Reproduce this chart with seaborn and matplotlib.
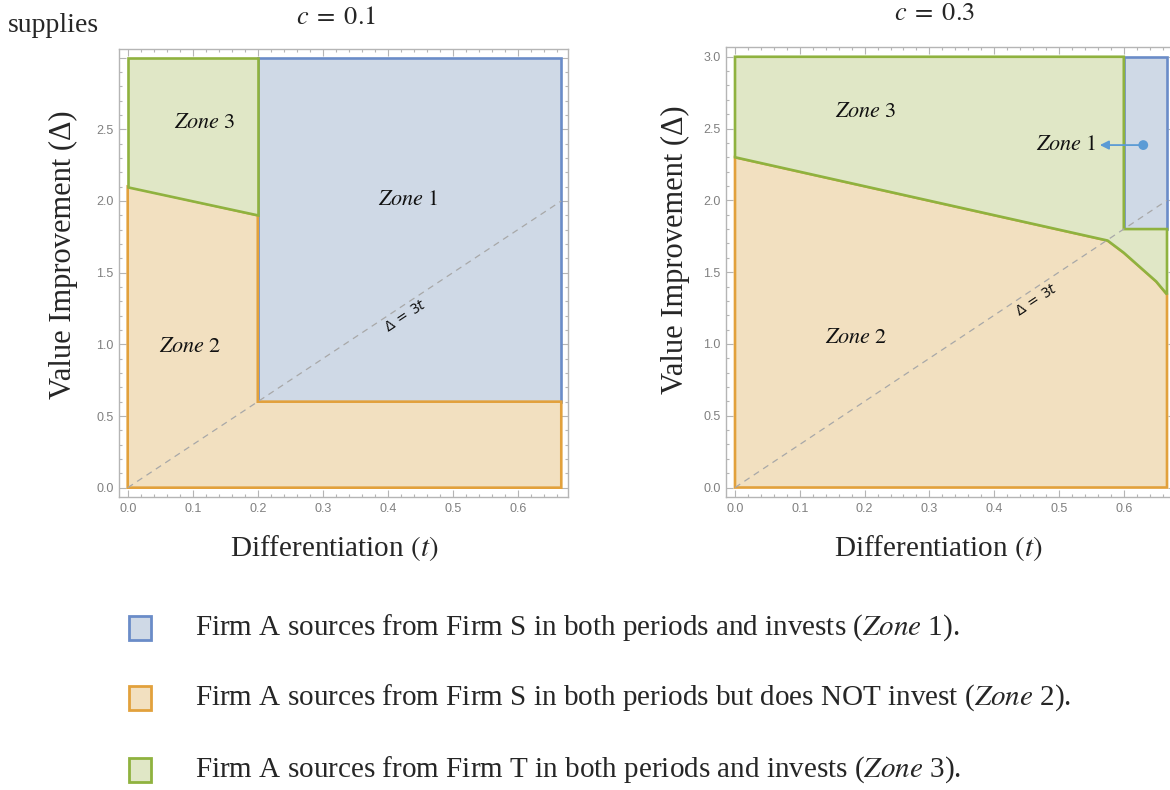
import matplotlib
matplotlib.use("Agg")
import matplotlib.pyplot as plt
from matplotlib.patches import Rectangle
from matplotlib.ticker import MultipleLocator
import seaborn as sns

# ---------------- data ----------------
T_MAX = 2 / 3

# c = 0.1 : zone polygons (t, Delta)
c1_zone1_t = [0.2, 0.2, T_MAX, T_MAX]
c1_zone1_d = [0.6, 3.0, 3.0, 0.6]
c1_zone2_t = [0.0, 0.0, 0.2, 0.2, T_MAX, T_MAX]
c1_zone2_d = [0.0, 2.1, 1.9, 0.6, 0.6, 0.0]
c1_zone3_t = [0.0, 0.0, 0.2, 0.2]
c1_zone3_d = [2.1, 3.0, 3.0, 1.9]

# c = 0.3 : boundary curve between zone 2 and zone 3 past the kink
c3_curve_t = [0.575, 0.6, 0.625, 0.65, T_MAX]
c3_curve_d = [1.72, 1.635, 1.535, 1.435, 1.345]
c3_zone1_t = [0.6, 0.6, T_MAX, T_MAX]
c3_zone1_d = [1.8, 3.0, 3.0, 1.8]
c3_zone2_t = [0.0, 0.0] + c3_curve_t + [T_MAX]
c3_zone2_d = [0.0, 2.3] + c3_curve_d + [0.0]
c3_zone3_t = [0.0, 0.0, 0.6, 0.6, T_MAX] + c3_curve_t[::-1]
c3_zone3_d = [2.3, 3.0, 3.0, 1.8, 1.8] + c3_curve_d[::-1]

# reference line Delta = 3t
diag_t = [0.0, T_MAX]
diag_d = [0.0, 2.0]

# Zone 1 marker in the c = 0.3 panel
c3_marker_t = [0.63]
c3_marker_d = [2.385]

x_ticks = [0.0, 0.1, 0.2, 0.3, 0.4, 0.5, 0.6]
y_ticks = [0.0, 0.5, 1.0, 1.5, 2.0, 2.5, 3.0]
x_tick_labels = ["0.0", "0.1", "0.2", "0.3", "0.4", "0.5", "0.6"]
y_tick_labels_left = ["0.0", "0.5", "1.0", "1.5", "2.0", "2.5", ""]
y_tick_labels_right = ["0.0", "0.5", "1.0", "1.5", "2.0", "2.5", "3.0"]

panel_titles = [r"$c\; =\; 0.1$", r"$c\; =\; 0.3$"]

legend_texts = [
    r"Firm A sources from Firm S in both periods and invests ($Zone$ 1).",
    r"Firm A sources from Firm S in both periods but does NOT invest ($Zone$ 2).",
    r"Firm A sources from Firm T in both periods and invests ($Zone$ 3).",
]

# ---------------- style ----------------
sns.set_theme(style="ticks")
plt.rcParams["font.family"] = ["Liberation Serif", "DejaVu Serif"]
plt.rcParams["mathtext.fontset"] = "stix"

ZONE_FILL = {1: "#cfd9e6", 2: "#f2e0c0", 3: "#e0e7c6"}
ZONE_EDGE = {1: "#6a8cc8", 2: "#e2a13c", 3: "#8fb23f"}
FRAME = "#b5b5b5"
TICK_TXT = "#808080"

fig = plt.figure(figsize=(11.7, 7.9), dpi=100)
W, H = 1170, 790


def px_axes(left, top, right, bottom):
    return fig.add_axes([left / W, 1 - bottom / H, (right - left) / W, (bottom - top) / H])


ax1 = px_axes(119, 49, 568, 497)
ax2 = px_axes(726, 47, 1175, 497)


def style_axes(ax, xlim, ylim, ylabels):
    ax.set_xlim(*xlim)
    ax.set_ylim(*ylim)
    for s in ax.spines.values():
        s.set_color(FRAME)
        s.set_linewidth(1.0)
    ax.set_xticks(x_ticks)
    ax.set_xticklabels(x_tick_labels)
    ax.set_yticks(y_ticks)
    ax.set_yticklabels(ylabels)
    ax.xaxis.set_minor_locator(MultipleLocator(0.02))
    ax.yaxis.set_minor_locator(MultipleLocator(0.1))
    ax.tick_params(which="both", direction="in", top=True, right=True,
                   color=FRAME, width=0.8)
    ax.tick_params(which="major", length=5, labelsize=9, labelcolor=TICK_TXT, pad=4)
    ax.tick_params(which="minor", length=2.5)
    for lab in ax.get_xticklabels() + ax.get_yticklabels():
        lab.set_family(["Liberation Sans", "DejaVu Sans"])
    ax.set_xlabel("")
    ax.set_ylabel("")


def draw_zone(ax, ts, ds, zone):
    ax.fill(ts, ds, facecolor=ZONE_FILL[zone], edgecolor=ZONE_EDGE[zone],
            linewidth=1.9, joinstyle="miter", zorder=1 + zone * 0.1)


def draw_diag(ax):
    sns.lineplot(x=diag_t, y=diag_d, ax=ax, color="#a8a8a8", linewidth=0.9,
                 linestyle=(0, (5, 4)), zorder=3)


zone_font = dict(fontsize=16, color="#111111", ha="center", va="center", zorder=4)
diag_font = dict(fontsize=10, color="#111111", ha="center", va="center",
                 math_fontfamily="dejavusans", zorder=4)

# ---- panel c = 0.1 ----
draw_zone(ax1, c1_zone1_t, c1_zone1_d, 1)
draw_zone(ax1, c1_zone2_t, c1_zone2_d, 2)
draw_zone(ax1, c1_zone3_t, c1_zone3_d, 3)
draw_diag(ax1)
style_axes(ax1, (-0.0134, 0.677), (-0.065, 3.06), y_tick_labels_left)
ax1.text(0.119, 2.54, r"$Zone\ 3$", **zone_font)
ax1.text(0.096, 0.98, r"$Zone\ 2$", **zone_font)
ax1.text(0.431, 2.0, r"$Zone\ 1$", **zone_font)
ax1.text(0.427, 1.20, r"$\Delta\,=\,3t$", rotation=33.5, **diag_font)

# ---- panel c = 0.3 ----
draw_zone(ax2, c3_zone1_t, c3_zone1_d, 1)
draw_zone(ax2, c3_zone2_t, c3_zone2_d, 2)
draw_zone(ax2, c3_zone3_t, c3_zone3_d, 3)
draw_diag(ax2)
style_axes(ax2, (-0.0139, 0.679), (-0.066, 3.068), y_tick_labels_right)
ax2.text(0.202, 2.61, r"$Zone\ 3$", **zone_font)
ax2.text(0.187, 1.04, r"$Zone\ 2$", **zone_font)
ax2.text(0.512, 2.385, r"$Zone\ 1$", **zone_font)
ax2.text(0.465, 1.31, r"$\Delta\,=\,3t$", rotation=33.5, **diag_font)
sns.scatterplot(x=c3_marker_t, y=c3_marker_d, ax=ax2, color="#5b9bd5", s=50,
                edgecolor="none", zorder=5)
ax2.annotate("", xy=(0.563, c3_marker_d[0]), xytext=(c3_marker_t[0], c3_marker_d[0]),
             arrowprops=dict(arrowstyle="-|>", color="#5b9bd5", lw=1.3,
                             mutation_scale=13, shrinkA=0, shrinkB=0), zorder=5)

# ---- axis labels ----
for cx in (334, 938):
    fig.text(cx / W, 1 - 548 / H, r"Differentiation $(t)$", fontsize=21,
             ha="center", va="center")
for cx, cy in ((63, 255), (675, 250)):
    fig.text(cx / W, 1 - cy / H, "Value Improvement (\u0394)", fontsize=22,
             rotation=90, ha="center", va="center")

# ---- panel titles ----
fig.text(336 / W, 1 - 18 / H, panel_titles[0], fontsize=19, ha="center", va="center")
fig.text(935 / W, 1 - 14 / H, panel_titles[1], fontsize=19, ha="center", va="center")

fig.text(8 / W, 1 - 25 / H, "supplies", fontsize=20, ha="left", va="center")

# ---- legend ----
legend_rows_y = [628, 698, 770]
for zone, (y, txt) in enumerate(zip(legend_rows_y, legend_texts), start=1):
    fig.patches.append(Rectangle((129 / W, 1 - (y + 12) / H), 22 / W, 24 / H,
                                 transform=fig.transFigure,
                                 facecolor=ZONE_FILL[zone], edgecolor=ZONE_EDGE[zone],
                                 linewidth=2.0))
    fig.text(195 / W, 1 - y / H, txt, fontsize=21, ha="left", va="center")

fig.savefig("out.png", dpi=100, facecolor="white")
